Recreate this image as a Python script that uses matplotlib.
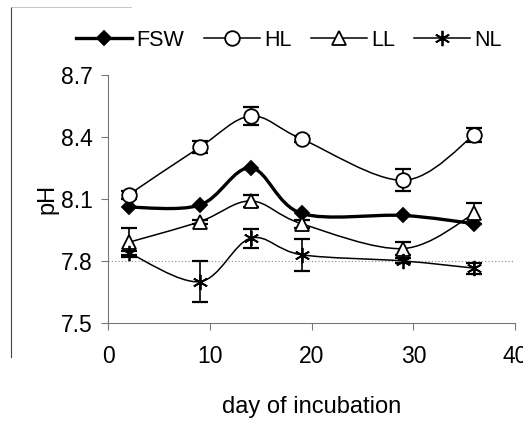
import numpy as np
import matplotlib.pyplot as plt
from matplotlib.path import Path
from matplotlib.patches import PathPatch
from matplotlib.lines import Line2D

plt.rcParams['font.family'] = ['Liberation Sans', 'DejaVu Sans']

days = [2, 9, 14, 19, 29, 36]
fsw = [8.06, 8.07, 8.25, 8.03, 8.02, 7.98]
fsw_err = [0.0, 0.0, 0.0, 0.0, 0.0, 0.0]
hl = [8.12, 8.35, 8.50, 8.39, 8.19, 8.41]
hl_err = [0.02, 0.03, 0.044, 0.015, 0.054, 0.033]
ll = [7.89, 7.99, 8.09, 7.98, 7.86, 8.03]
ll_err = [0.07, 0.01, 0.03, 0.02, 0.03, 0.05]
nl = [7.84, 7.70, 7.91, 7.83, 7.80, 7.765]
nl_err = [0.01, 0.10, 0.045, 0.077, 0.012, 0.027]


def smooth_path(x, y):
    # excel style smoothed line: cubic bezier with catmull-rom control points
    p = np.column_stack([x, y]).astype(float)
    n = len(p)
    verts = [p[0]]
    codes = [Path.MOVETO]
    for i in range(n - 1):
        p0 = p[i - 1] if i > 0 else p[i]
        p3 = p[i + 2] if i + 2 < n else p[i + 1]
        c1 = p[i] + (p[i + 1] - p0) / 6
        c2 = p[i + 1] - (p3 - p[i]) / 6
        verts += [c1, c2, p[i + 1]]
        codes += [Path.CURVE4] * 3
    return Path(verts, codes)


fig = plt.figure(figsize=(5.23, 4.25), dpi=100)
ax = fig.add_axes([0.207, 0.24, 0.778, 0.584])

ax.axhline(7.8, color='#888888', lw=0.8, ls=(0, (1, 2)), zorder=1)

series = [
    (fsw, fsw_err, 'FSW', 'D', 'black', 2.4, 7),
    (hl, hl_err, 'HL', 'o', 'white', 1.1, 10.5),
    (ll, ll_err, 'LL', '^', 'white', 1.1, 9.5),
    (nl, nl_err, 'NL', (6, 2, 0), 'black', 1.1, 11),
]
handles = []
for vals, err, name, mk, fc, lw, ms in series:
    ax.add_patch(PathPatch(smooth_path(days, vals), fill=False, ec='black', lw=lw, zorder=2))
    if any(e > 0 for e in err):
        ax.errorbar(days, vals, yerr=err, fmt='none', ecolor='black', elinewidth=1.2,
                    capsize=6, capthick=1.6, zorder=3)
    ax.plot(days, vals, ls='none', marker=mk, ms=ms, mfc=fc, mec='black', mew=1.3, zorder=4)
    handles.append(Line2D([], [], color='black', lw=lw, marker=mk, ms=ms, mfc=fc,
                          mec='black', mew=1.3, label=name))

ax.set_xlim(0, 40)
ax.set_ylim(7.5, 8.7)
ax.set_xticks([0, 10, 20, 30, 40])
ax.set_yticks([7.5, 7.8, 8.1, 8.4, 8.7])
ax.set_yticklabels(['7.5', '7.8', '8.1', '8.4', '8.7'])
for s in ['top', 'right']:
    ax.spines[s].set_visible(False)
for s in ['left', 'bottom']:
    ax.spines[s].set_color('#777777')
    ax.spines[s].set_linewidth(0.8)
ax.tick_params(direction='out', length=5, width=0.8, color='#777777', labelsize=16.5)
ax.tick_params(axis='x', pad=11)
ax.tick_params(axis='y', pad=6)
ax.set_xlabel('day of incubation', fontsize=17, labelpad=20)
ax.set_ylabel('pH', fontsize=17, labelpad=2)

fig.legend(handles=handles, loc='center', bbox_to_anchor=(0.553, 0.905), ncol=4,
           frameon=False, fontsize=15.5, handlelength=2.6, handletextpad=0.2,
           columnspacing=0.9, borderaxespad=0)

# scan frame remnants on the left
fig.add_artist(Line2D([0.021, 0.021], [0.16, 0.983], color='#444444', lw=0.8))
fig.add_artist(Line2D([0.021, 0.25], [0.983, 0.983], color='#bbbbbb', lw=0.6))

fig.savefig('out.png', dpi=100)
